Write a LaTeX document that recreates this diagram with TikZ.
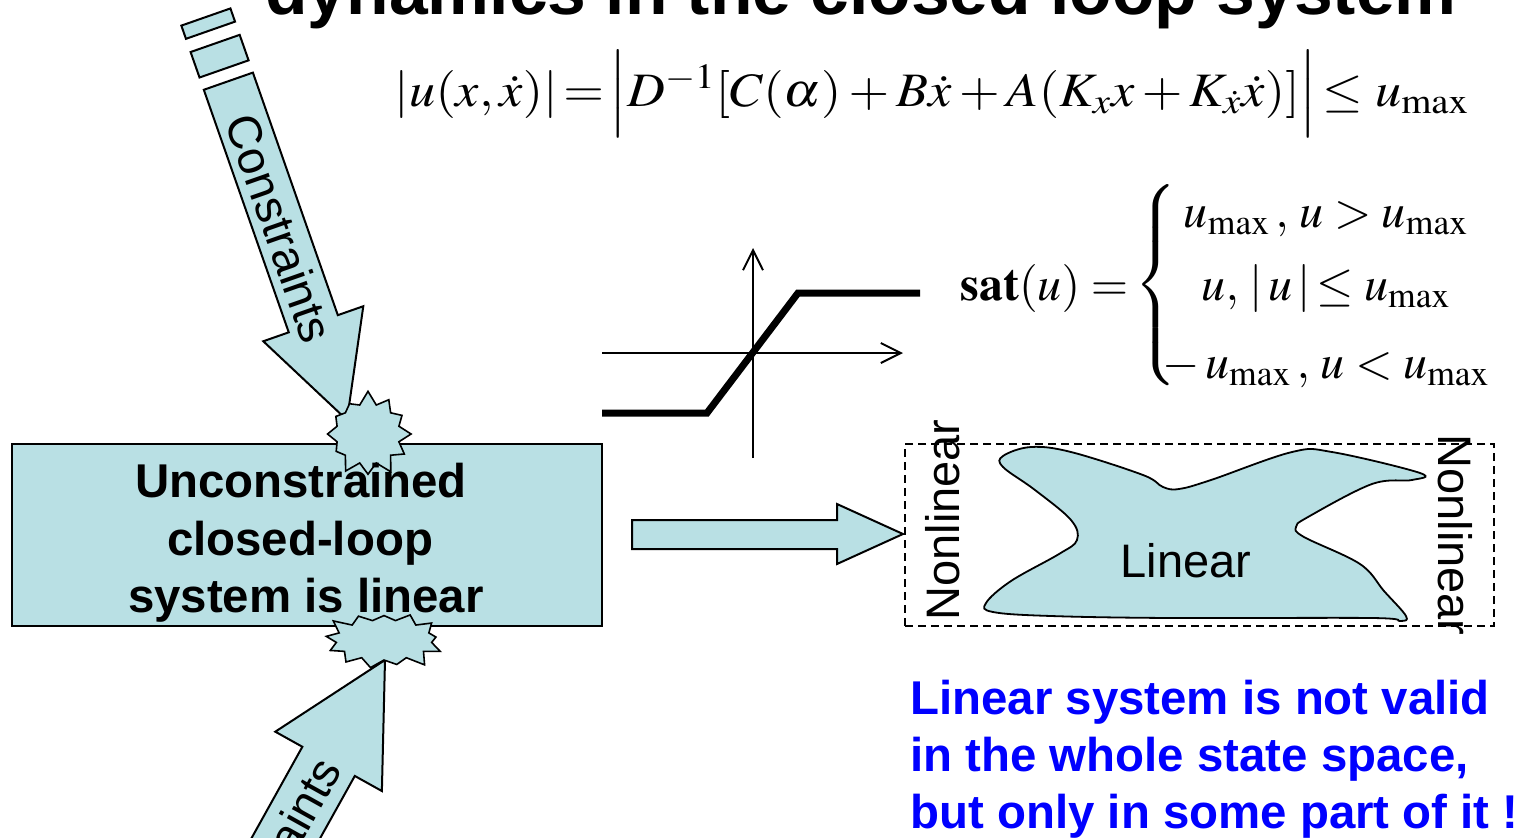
\documentclass[tikz,border=0pt]{standalone}
\usepackage{amsmath}
\usepackage{mathptmx}
\usepackage{graphicx}
\usepackage[no-math]{fontspec}
\newfontfamily\arial{Liberation Sans}
\usetikzlibrary{arrows.meta,shapes.symbols}
\definecolor{boxc}{RGB}{185,224,228}
\definecolor{bluetxt}{RGB}{0,0,255}
\tikzset{
  fillc/.style={fill=boxc, draw=black, line width=1pt, line join=miter},
  sanstxt/.style={font=\arial\fontsize{23.5}{28}\selectfont, inner sep=0pt},
  boldtxt/.style={font=\arial\bfseries\fontsize{23.7}{28}\selectfont, inner sep=0pt},
  mathtxt/.style={font=\fontsize{24}{28}\selectfont, inner sep=0pt},
  bluetext/.style={boldtxt, text=bluetxt, anchor=base west},
  burst/.style={starburst, fill=boxc, draw=black, line width=0.8pt, inner sep=0pt},
  axisline/.style={line width=1pt, -{Straight Barb[length=10pt,width=10pt]}},
  satline/.style={line width=3.5pt},
}
\begin{document}
\begin{tikzpicture}[x=0.5pt,y=-0.5pt]
\useasboundingbox (0,0) rectangle (1523,837);
\clip (0,0) rectangle (1523,837);
% title (cut at top)
\node[font=\arial\bfseries\fontsize{34.8}{40}\selectfont, anchor=base, inner sep=0pt] (title) at (861,14) {dynamics in the closed loop system};
% constraint equation
\node[mathtxt, anchor=base] (eq) at (932,106) {\resizebox{537pt}{\height}{$\lvert u(x,\dot{x})\rvert\!=\!\left\lvert\vrule height 24pt depth 11pt width 0pt D^{-1}[C(\alpha)+B\dot{x}+A(K_x x+K_{\dot{x}}\dot{x})]\right\rvert\!\leq u_{\max}$}};
% upper striped arrow
\begin{scope}[shift={(347,420)}, rotate=109.3]
  \draw[fillc] (0,0) -- (102,53) -- (102,26) -- (359,26) -- (359,-26) -- (102,-26) -- (102,-53) -- cycle;
  \draw[fillc] (372,-26) -- (399,-26) -- (399,26) -- (372,26) -- cycle;
  \draw[fillc] (413,-26) -- (427,-26) -- (427,26) -- (413,26) -- cycle;
  \node[sanstxt, rotate=-70.7] (c1) at (203,0) {Constraints};
\end{scope}
% lower arrow
\begin{scope}[shift={(385,660)}, rotate=240.9]
  \draw[fillc] (0,0) -- (116,61) -- (116,30) -- (460,30) -- (460,-30) -- (116,-30) -- (116,-61) -- cycle;
  \node[sanstxt, rotate=60.9] (c2) at (235,0) {Constraints};
\end{scope}
% system box
\node[fillc, minimum width=295pt, minimum height=91pt, inner sep=0pt] (sys) at (307,535) {};
\node[burst, starburst points=12, starburst point height=7pt, minimum width=46pt, minimum height=44pt, random starburst=7] (star1) at (368,434) {};
\node[burst, starburst points=13, starburst point height=7pt, minimum width=62pt, minimum height=34pt, random starburst=3] (star2) at (384,640) {};
\node[boldtxt, anchor=base] (t1) at (301,497) {Unconstrained};
\node[boldtxt, anchor=base] (t2) at (300,555) {closed-loop};
\node[boldtxt, anchor=base] (t3) at (306,612) {system is linear};
% saturation graph
\coordinate (xa0) at (602,353);
\coordinate (xa1) at (903,353);
\coordinate (ya0) at (753,458);
\coordinate (ya1) at (753,248);
\draw[axisline] (xa0) -- (xa1);
\draw[axisline] (ya0) -- (ya1);
\coordinate (s0) at (602,413);
\coordinate (s1) at (707,413);
\coordinate (s2) at (798,293);
\coordinate (s3) at (920,293);
\draw[satline] (s0) -- (s1) -- (s2) -- (s3);
% sat equation
\node[mathtxt, anchor=base west] (satl) at (960,300) {$\mathbf{sat}(u)=$};
\node[mathtxt] (brace) at (1157,285) {$\left\{\vrule height 44pt depth 44pt width 0pt\right.$};
\node[mathtxt, anchor=base] (r1) at (1326,227) {$u_{\max}\,,\,u>u_{\max}$};
\node[mathtxt, anchor=base] (r2) at (1326,300) {$u,\,\lvert\,u\,\rvert\!\leq u_{\max}$};
\node[mathtxt, anchor=base] (r3) at (1326,378) {$-\,u_{\max}\,,\,u<u_{\max}$};
% right block arrow
\draw[fillc] (632,520) -- (837,520) -- (837,504) -- (903,534) -- (837,564) -- (837,549) -- (632,549) -- cycle;
% state space region
\node[draw, dash pattern=on 4pt off 2.5pt, line width=0.7pt, minimum width=294.5pt, minimum height=91pt, inner sep=0pt] (region) at (1199.5,535) {};
\draw[fillc, line width=0.9pt] plot[smooth cycle, tension=0.6] coordinates {
 (1003,456) (1031,447) (1071,452) (1143,475) (1163,487) (1179,489) (1211,480)
 (1292,452) (1332,452) (1420,473) (1412,480) (1372,484) (1308,517) (1296,527)
 (1304,537) (1360,564) (1384,591) (1406,616) (1400,621) (1372,618) (1171,618)
 (1051,616) (993,612) (986,603) (1011,581) (1059,554) (1077,540) (1071,520)
 (1035,490) (1003,467)};
\node[sanstxt, anchor=base] (lin) at (1186,577) {Linear};
\node[sanstxt, rotate=90] (nl1) at (943,520) {Nonlinear};
\node[sanstxt, rotate=-90] (nl2) at (1455,535) {Nonlinear};
% blue remark
\node[bluetext] (b1) at (910,714) {Linear system is not valid};
\node[bluetext] (b2) at (910,771) {in the whole state space,};
\node[bluetext] (b3) at (910,828) {but only in some part of it !};
\end{tikzpicture}
\end{document}
